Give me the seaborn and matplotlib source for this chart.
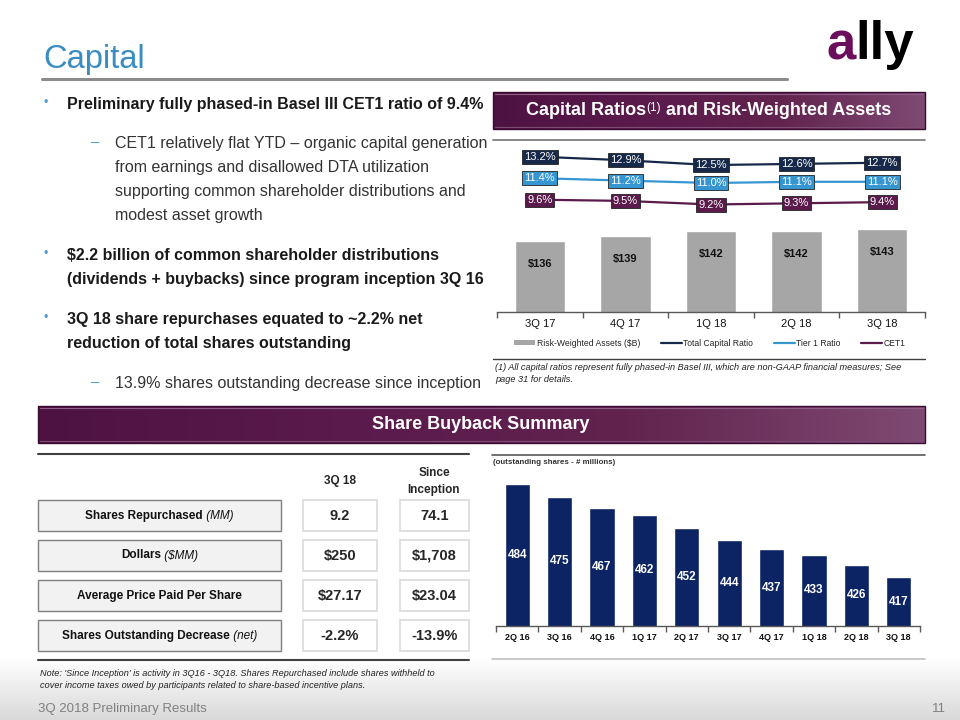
import numpy as np
import pandas as pd
import matplotlib.pyplot as plt
import seaborn as sns
from matplotlib.patches import Rectangle, Patch
from matplotlib.lines import Line2D
from matplotlib.colors import LinearSegmentedColormap
from matplotlib.offsetbox import TextArea, HPacker, AnnotationBbox

W, H = 960, 720

# --- data ---
ratio_quarters = ['3Q 17', '4Q 17', '1Q 18', '2Q 18', '3Q 18']
rwa_billions = [136, 139, 142, 142, 143]
total_capital_ratio = [13.2, 12.9, 12.5, 12.6, 12.7]
tier1_ratio = [11.4, 11.2, 11.0, 11.1, 11.1]
cet1_ratio = [9.6, 9.5, 9.2, 9.3, 9.4]
ratio_names = ['Total Capital Ratio', 'Tier 1 Ratio', 'CET1']
ratio_colors = ['#17294a', '#3596d2', '#5b1a4c']

share_quarters = ['2Q 16', '3Q 16', '4Q 16', '1Q 17', '2Q 17',
                  '3Q 17', '4Q 17', '1Q 18', '2Q 18', '3Q 18']
shares_outstanding = [484, 475, 467, 462, 452, 444, 437, 433, 426, 417]

table_headers = ['3Q 18', 'Since\nInception']
row_labels = [('Shares Repurchased', ' (MM)'), ('Dollars', ' ($MM)'),
              ('Average Price Paid Per Share', ''),
              ('Shares Outstanding Decrease', ' (net)')]
vals_3q18 = ['9.2', '$250', '$27.17', '-2.2%']
vals_inception = ['74.1', '$1,708', '$23.04', '-13.9%']

bullets = [
    (103, 'dot', 'Preliminary fully phased-in Basel III CET1 ratio of 9.4%', 'bold'),
    (142, 'dash', 'CET1 relatively flat YTD \u2013 organic capital generation', 'normal'),
    (166, None, 'from earnings and disallowed DTA utilization', 'normal'),
    (190, None, 'supporting common shareholder distributions and', 'normal'),
    (214, None, 'modest asset growth', 'normal'),
    (254, 'dot', '$2.2 billion of common shareholder distributions', 'bold'),
    (278, None, '(dividends + buybacks) since program inception 3Q 16', 'bold'),
    (318, 'dot', '3Q 18 share repurchases equated to ~2.2% net', 'bold'),
    (342, None, 'reduction of total shares outstanding', 'bold'),
    (382, 'dash', '13.9% shares outstanding decrease since inception', 'normal'),
]

sns.set_theme(style='white')
plt.rcParams['font.family'] = ['Liberation Sans', 'DejaVu Sans']

fig = plt.figure(figsize=(9.6, 7.2), dpi=100)
bg = fig.add_axes([0, 0, 1, 1], zorder=0)
bg.axis('off')


def px_axes(x0, y0, x1, y1):
    ax = fig.add_axes([x0 / W, 1 - y1 / H, (x1 - x0) / W, (y1 - y0) / H], zorder=1)
    ax.set_facecolor('none')
    return ax


def mixed_text(x, y, parts, align='baseline'):
    areas = [TextArea(s, textprops=p) for s, p in parts]
    box = HPacker(children=areas, align=align, pad=0, sep=0)
    bg.add_artist(AnnotationBbox(box, (x, y), xycoords='data', box_alignment=(0.5, 0.5),
                                 frameon=False, pad=0))


def purple_bar(x0, y0, x1, y1):
    cmap = LinearSegmentedColormap.from_list('hdr', ['#4e1242', '#5a1a4c', '#62234f', '#7e4a73'])
    bg.imshow(np.linspace(0, 1, 256).reshape(1, -1), extent=(x0, x1, y1, y0),
              cmap=cmap, aspect='auto', zorder=1)
    bg.add_patch(Rectangle((x0, y0), x1 - x0, y1 - y0, fill=False, ec='#3a0b30', lw=1, zorder=2))
    bg.plot([x0 + 2, x1 - 2], [y0 + 2, y0 + 2], color='#8e5f86', lw=0.8, zorder=2)
    bg.plot([x0 + 2, x1 - 2], [y1 - 2, y1 - 2], color='#7d4c73', lw=0.8, zorder=2)


def style_cat_axis(ax, n, size, weight):
    for s in ['top', 'left', 'right']:
        ax.spines[s].set_visible(False)
    ax.spines['bottom'].set_color('#595959')
    ax.spines['bottom'].set_linewidth(1)
    ax.set_yticks([])
    ax.set_xlabel('')
    ax.set_ylabel('')
    ax.set_xlim(-0.5, n - 0.5)
    ax.set_xticks(np.arange(-0.5, n), minor=True)
    ax.tick_params(axis='x', which='major', length=0, pad=5, labelsize=size, labelcolor='#111111')
    ax.tick_params(axis='x', which='minor', length=4, width=1, color='#595959', bottom=True)
    for lab in ax.get_xticklabels():
        lab.set_fontweight(weight)


# footer gradient
bg.imshow(np.linspace(0, 1, 100).reshape(-1, 1), extent=(0, W, H, 658),
          cmap=LinearSegmentedColormap.from_list('ft', ['#ffffff', '#d9d9d9']),
          aspect='auto', zorder=0)

# title + logo
bg.text(43, 68, 'Capital', fontsize=23.5, color='#3a8dc0', va='baseline')
bg.plot([42, 787], [79, 79], color='#8c8c8c', lw=2.2)
mixed_text(870, 45, [('a', dict(color='#6b0f5c', fontsize=38, fontweight='bold')),
                     ('lly', dict(color='black', fontsize=38, fontweight='bold'))])

# bullets
for y, mark, txt, weight in bullets:
    tx = 67 if weight == 'bold' or mark == 'dot' else 115
    if mark == 'dot':
        bg.text(46, y, '\u2022', color='#4f9fd0', fontsize=9, ha='center', va='center')
    elif mark == 'dash':
        bg.text(95, y, '\u2013', color='#4f9fd0', fontsize=11, ha='center', va='center')
    bg.text(tx, y + 6, txt, fontsize=11.5, fontweight=weight,
            color='#1a1a1a' if weight == 'bold' else '#333333', va='baseline')

# headers
purple_bar(493, 92, 925, 129)
mixed_text(709, 110.5, [('Capital Ratios', dict(color='white', fontsize=13, fontweight='bold')),
                        ('(1)', dict(color='white', fontsize=8.5)),
                        (' and Risk-Weighted Assets', dict(color='white', fontsize=13, fontweight='bold'))],
           align='top')
purple_bar(38, 406, 925, 443)
bg.text(481, 424.5, 'Share Buyback Summary', color='white', fontsize=13, fontweight='bold',
        ha='center', va='center')

# --- capital ratios chart ---
bg.plot([493, 925], [140, 140], color='#7f7f7f', lw=1.3)
ax1 = px_axes(497, 140, 925, 312)
rwa_df = pd.DataFrame({'quarter': ratio_quarters, 'rwa': rwa_billions})
sns.barplot(data=rwa_df, x='quarter', y='rwa', color='#a6a6a6', saturation=1, width=0.59, ax=ax1)
ax1.set_ylim(95, 195)
for i, v in enumerate(rwa_billions):
    ax1.text(i, v - 13, f'${v}', ha='center', va='center', fontsize=8, fontweight='bold', color='#111111')
style_cat_axis(ax1, len(ratio_quarters), 8, 'normal')

ax2 = ax1.twinx()
ax2.set_zorder(2)
ax2.patch.set_visible(False)
ratio_df = pd.DataFrame({
    'pos': np.tile(np.arange(len(ratio_quarters)), 3),
    'ratio': total_capital_ratio + tier1_ratio + cet1_ratio,
    'series': np.repeat(ratio_names, len(ratio_quarters)),
})
sns.lineplot(data=ratio_df, x='pos', y='ratio', hue='series', hue_order=ratio_names,
             palette=dict(zip(ratio_names, ratio_colors)), linewidth=1.6, legend=False, ax=ax2)
ax2.set_ylim(0.2, 14.6)
ax2.set_xlim(-0.5, len(ratio_quarters) - 0.5)
ax2.axis('off')
for vals, c in zip([total_capital_ratio, tier1_ratio, cet1_ratio], ratio_colors):
    for i, v in enumerate(vals):
        ax2.text(i, v, f'{v:.1f}%', ha='center', va='center', fontsize=8, color='white',
                 bbox=dict(boxstyle='square,pad=0.18', fc=c, ec='#222222', lw=0.6))

handles = [Patch(fc='#a6a6a6', ec='none')] + [Line2D([], [], color=c, lw=1.6) for c in ratio_colors]
ax1.legend(handles, ['Risk-Weighted Assets ($B)'] + ratio_names, loc='center',
           bbox_to_anchor=(710 / W, 1 - 343 / H), bbox_transform=fig.transFigure,
           ncol=4, frameon=False, fontsize=6.2, handlelength=2.4, handleheight=0.5,
           handletextpad=0.2, columnspacing=2.4)

bg.plot([493, 925], [359, 359], color='#404040', lw=1)
bg.text(495, 367, '(1) All capital ratios represent fully phased-in Basel III, which are non-GAAP '
        'financial measures; See', fontsize=6.6, style='italic', color='#222222', va='center')
bg.text(495, 379, 'page 31 for details.', fontsize=6.6, style='italic', color='#222222', va='center')

# --- shares outstanding chart ---
bg.plot([492, 925], [455, 455], color='#595959', lw=1.2)
bg.plot([492, 925], [659, 659], color='#bfbfbf', lw=1.2)
bg.text(493, 462, '(outstanding shares - # millions)', fontsize=5.7, fontweight='bold',
        color='#333333', va='center')
ax3 = px_axes(496, 470, 920, 626)
shares_df = pd.DataFrame({'quarter': share_quarters, 'shares': shares_outstanding})
sns.barplot(data=shares_df, x='quarter', y='shares', color='#0c2364', saturation=1, width=0.59, ax=ax3)
ax3.set_ylim(381.7, 494.1)
for i, v in enumerate(shares_outstanding):
    ax3.text(i, (381.7 + v) / 2, str(v), ha='center', va='center', fontsize=8.5,
             fontweight='bold', color='white')
style_cat_axis(ax3, len(share_quarters), 6.5, 'bold')

# --- buyback table ---
bg.plot([38, 469], [454, 454], color='#404040', lw=1.5)
bg.plot([38, 469], [660, 660], color='#404040', lw=1.5)
bg.text(340, 481, table_headers[0], fontsize=8.5, fontweight='bold', ha='center', va='center')
bg.text(434, 481.5, table_headers[1], fontsize=8.5, fontweight='bold', ha='center', va='center',
        linespacing=1.55)
for k, (main, extra) in enumerate(row_labels):
    top = 500 + 40 * k
    bg.add_patch(Rectangle((38, top), 243, 31, fc='#f2f2f2', ec='#808080', lw=1, zorder=2))
    bg.add_patch(Rectangle((303, top), 74, 31, fc='white', ec='#d9d9d9', lw=1.2, zorder=2))
    bg.add_patch(Rectangle((400, top), 69, 31, fc='white', ec='#d9d9d9', lw=1.2, zorder=2))
    parts = [(main, dict(fontsize=8.5, fontweight='bold', color='#111111'))]
    if extra:
        parts.append((extra, dict(fontsize=8.5, style='italic', color='#111111')))
    mixed_text(159.5, top + 15.5, parts)
    bg.text(340, top + 16, vals_3q18[k], fontsize=10.5, fontweight='bold', ha='center', va='center', zorder=3)
    bg.text(434.5, top + 16, vals_inception[k], fontsize=10.5, fontweight='bold', ha='center', va='center', zorder=3)

bg.text(40, 673, "Note: 'Since Inception' is activity in 3Q16 - 3Q18. Shares Repurchased include "
        "shares withheld to", fontsize=6.6, style='italic', color='#222222', va='center')
bg.text(40, 685, 'cover income taxes owed by participants related to share-based incentive plans.',
        fontsize=6.6, style='italic', color='#222222', va='center')

# footer
bg.text(38, 709, '3Q 2018 Preliminary Results', fontsize=9.5, color='#808080', va='center')
bg.text(946, 709, '11', fontsize=9.5, color='#808080', va='center', ha='right')

bg.set_xlim(0, W)
bg.set_ylim(H, 0)

fig.savefig('out.png', dpi=100)
